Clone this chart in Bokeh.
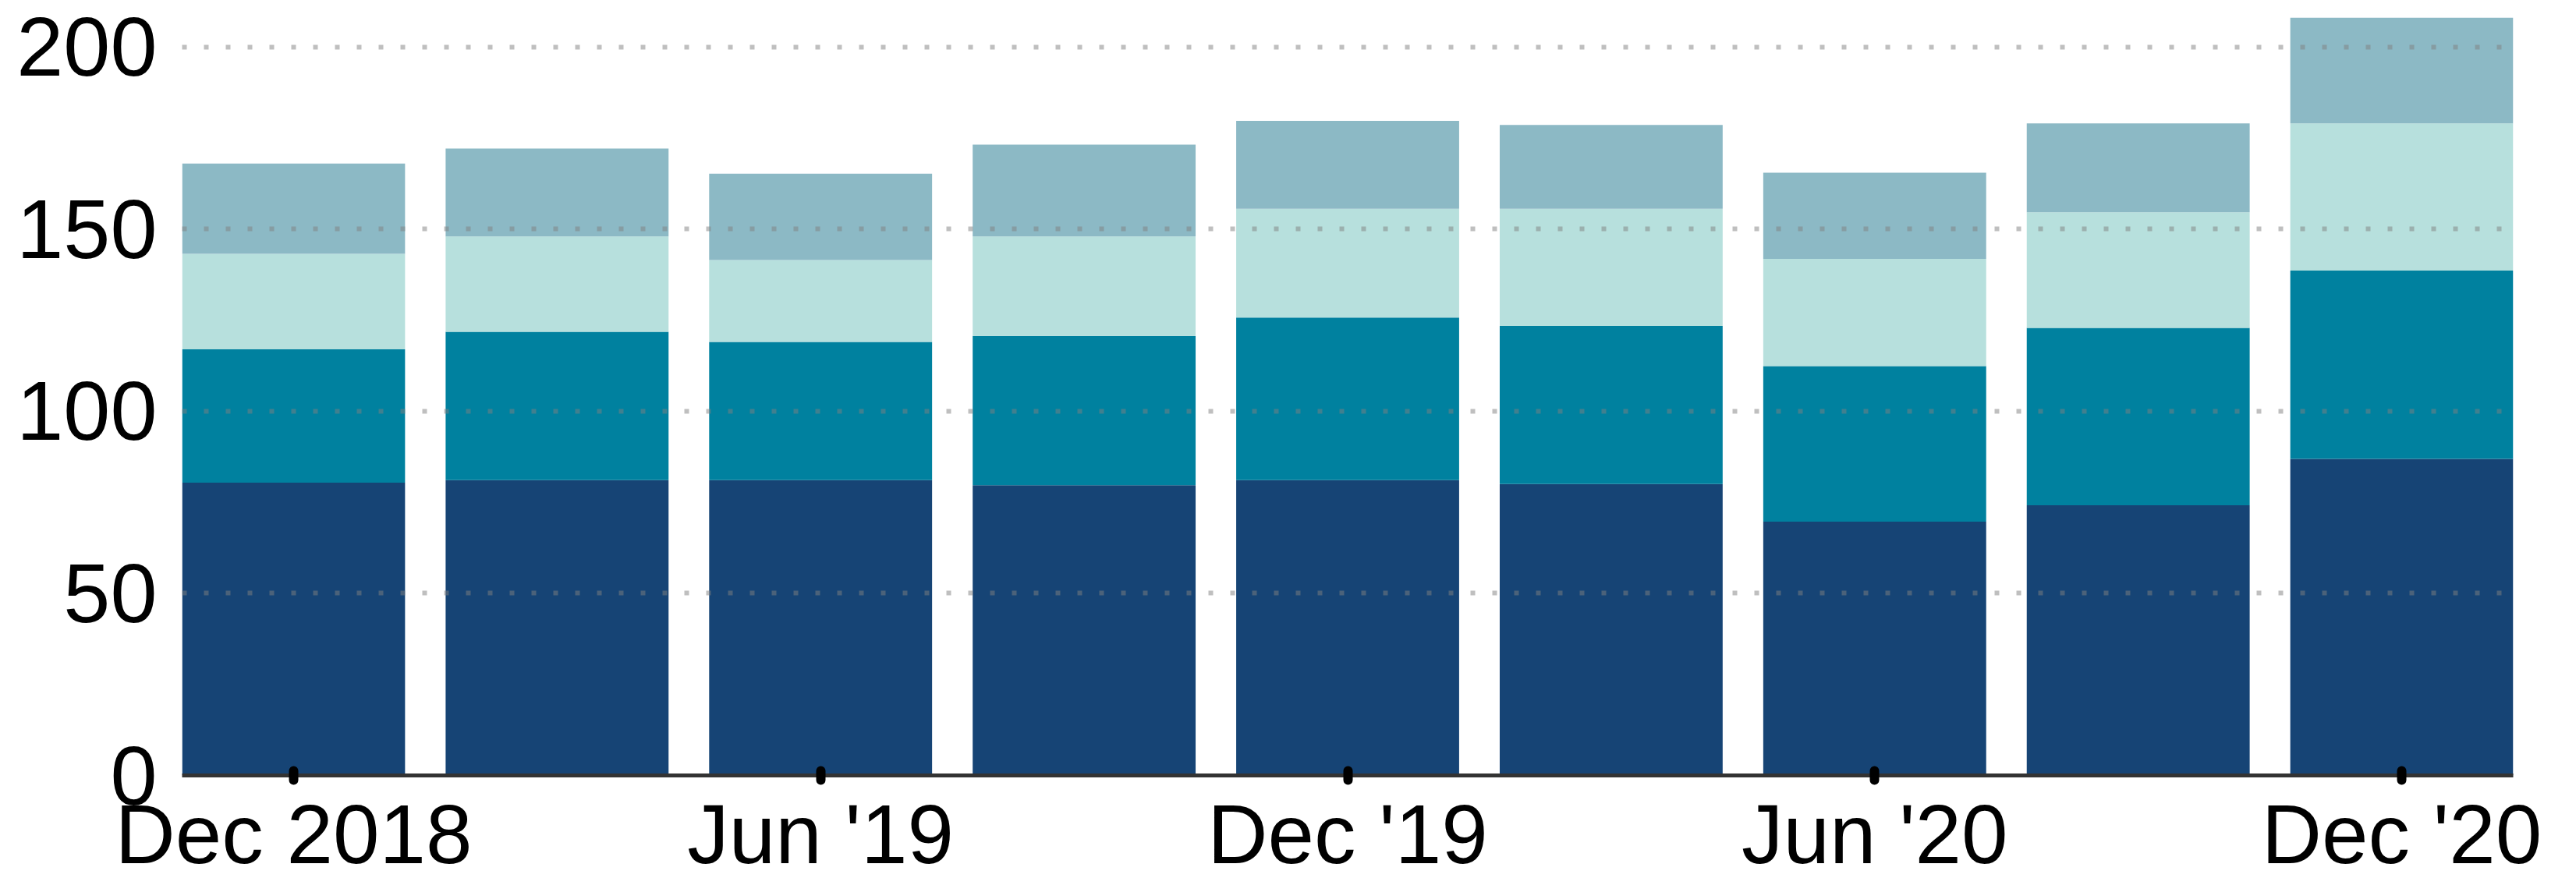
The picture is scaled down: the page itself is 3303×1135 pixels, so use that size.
from bokeh.plotting import figure
from bokeh.models import ColumnDataSource, FixedTicker, Range1d
from bokeh.embed import file_html
from bokeh.resources import INLINE

# Quarterly periods (x categories)
periods = ["Dec 2018", "Mar '19", "Jun '19", "Sep '19", "Dec '19",
           "Mar '20", "Jun '20", "Sep '20", "Dec '20"]
# Stacked components, bottom to top
series_1 = [80.4, 81.1, 81.1, 79.7, 81.1, 80.0, 69.7, 74.2, 86.9]
series_2 = [36.6, 40.7, 37.9, 41.0, 44.6, 43.4, 42.7, 48.7, 51.7]
series_3 = [26.2, 26.2, 22.5, 27.3, 29.9, 32.2, 29.4, 31.7, 40.4]
series_4 = [24.8, 24.1, 23.7, 25.2, 24.1, 23.0, 23.7, 24.4, 29.0]
y_ticks = [0, 50, 100, 150, 200]

colors = ["#164475", "#00819f", "#b7e0dd", "#8cb9c5"]

xs = list(range(1, len(periods) + 1))
source = ColumnDataSource(dict(x=xs, s1=series_1, s2=series_2,
                               s3=series_3, s4=series_4))

half = 0.423
p = figure(width=3272, height=1135,
           x_range=Range1d(xs[0] - half, xs[-1] + half),
           y_range=Range1d(0, 210),
           output_backend="svg", toolbar_location=None,
           min_border_left=233, min_border_right=50,
           min_border_top=13, min_border_bottom=141)
p.outline_line_color = None
p.background_fill_color = "white"
p.border_fill_color = "white"

p.vbar_stack(["s1", "s2", "s3", "s4"], x="x", width=2 * half,
             color=colors, line_color=None, source=source)

# grid
p.xgrid.visible = False
p.ygrid.ticker = FixedTicker(ticks=y_ticks[1:])
p.ygrid.grid_line_color = "#808080"
p.ygrid.grid_line_alpha = 0.5
p.ygrid.grid_line_width = 6
p.ygrid.grid_line_dash = "6 22"
p.ygrid.level = "overlay"

font = "Liberation Sans"
# y axis
p.yaxis.ticker = FixedTicker(ticks=y_ticks)
p.yaxis.axis_line_color = None
p.yaxis.major_tick_line_color = None
p.yaxis.minor_tick_line_color = None
p.yaxis.major_label_standoff = 26
p.yaxis.major_label_text_font = font
p.yaxis.major_label_text_font_size = "108px"
p.yaxis.major_label_text_color = "black"

# x axis
tick_pos = xs[::2]
p.xaxis.ticker = FixedTicker(ticks=tick_pos)
p.xaxis.major_label_overrides = {t: periods[t - 1] for t in tick_pos}
p.xaxis.axis_line_color = "#333333"
p.xaxis.axis_line_width = 5
p.xaxis.major_tick_in = 6
p.xaxis.major_tick_out = 6
p.xaxis.major_tick_line_width = 12
p.xaxis.major_tick_line_color = "black"
p.xaxis.major_tick_line_cap = "round"
p.xaxis.minor_tick_line_color = None
p.xaxis.major_label_standoff = 9
p.xaxis.major_label_text_font = font
p.xaxis.major_label_text_font_size = "107px"
p.xaxis.major_label_text_color = "black"

open("out.html", "w").write(file_html(p, INLINE))
